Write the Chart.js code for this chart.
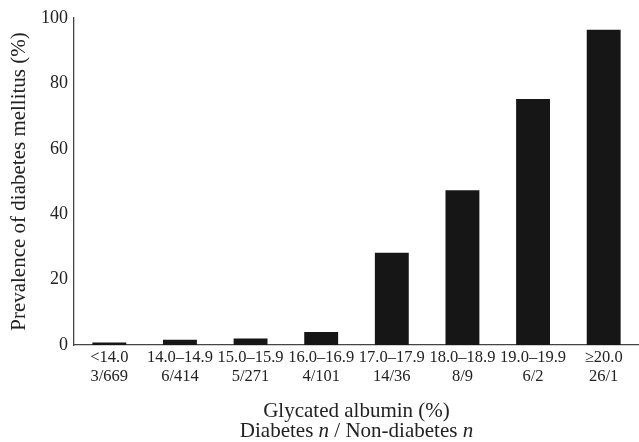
<!DOCTYPE html>
<html>
<head>
<meta charset="utf-8">
<script src="https://cdn.jsdelivr.net/npm/chart.js@4.4.1/dist/chart.umd.min.js"></script>
<style>
  body { margin: 0; background: #fff; }
  #wrap { width: 639px; height: 442px; }
</style>
</head>
<body>
<div id="wrap"><canvas id="gaChart"></canvas></div>
<script>
// glycated albumin ranges and counts (diabetes / non-diabetes)
const ranges = ["<14.0", "14.0\u201314.9", "15.0\u201315.9", "16.0\u201316.9", "17.0\u201317.9", "18.0\u201318.9", "19.0\u201319.9", "\u226520.0"]
const counts = ["3/669", "6/414", "5/271", "4/101", "14/36", "8/9", "6/2", "26/1"]
// prevalence of diabetes mellitus, %
const prevalence = [0.8, 1.6, 2.0, 4.0, 28.2, 47.3, 75.2, 96.4]
const yTicks = [0, 20, 40, 60, 80, 100]

const serif = "'Liberation Serif', 'Times New Roman', serif"
const ink = "#222"

// x title, second line has italic n
const xTitle = {
    id: 'xTitle',
    afterDraw(chart) {
        const { ctx, chartArea } = chart
        const xs = chart.scales.x
        const cx = (chartArea.left + chartArea.right) / 2
        ctx.save()
        ctx.fillStyle = ink
        ctx.textBaseline = 'middle'
        ctx.textAlign = 'center'
        ctx.font = "21px " + serif
        ctx.fillText("Glycated albumin (%)", cx, xs.top + 66)

        const parts = [["Diabetes ", false], ["n", true], [" / Non-diabetes ", false], ["n", true]]
        let total = 0
        parts.forEach(p => {
            ctx.font = (p[1] ? "italic " : "") + "21px " + serif
            total += ctx.measureText(p[0]).width
        })
        let x = cx - total / 2
        ctx.textAlign = 'left'
        parts.forEach(p => {
            ctx.font = (p[1] ? "italic " : "") + "21px " + serif
            ctx.fillText(p[0], x, xs.top + 86)
            x += ctx.measureText(p[0]).width
        })
        ctx.restore()
    }
}

const config = {
    type: 'bar',
    data: {
        labels: ranges.map((r, i) => [r, counts[i]]),
        datasets: [{
            data: prevalence,
            backgroundColor: '#161616',
            borderColor: '#555',
            borderWidth: 0,
            barPercentage: 0.48,
            categoryPercentage: 1.0
        }]
    },
    options: {
        responsive: true,
        maintainAspectRatio: false,
        animation: false,
        layout: { padding: { top: 18, right: 0, bottom: 0, left: 0 } },
        plugins: {
            legend: { display: false },
            tooltip: { enabled: false }
        },
        scales: {
            x: {
                grid: { display: false, drawTicks: false },
                border: { display: true, color: '#444', width: 1.3 },
                ticks: {
                    color: ink,
                    padding: 4,
                    maxRotation: 0,
                    autoSkip: false,
                    font: { family: serif, size: 16.5, lineHeight: 1.1 }
                },
                afterFit(scale) { scale.height = 97 }
            },
            y: {
                min: 0,
                max: 100,
                afterBuildTicks(scale) { scale.ticks = yTicks.map(v => ({ value: v })) },
                grid: { display: false, drawTicks: false },
                border: { display: true, color: '#444', width: 1.3 },
                ticks: {
                    color: ink,
                    padding: 6,
                    font: { family: serif, size: 18 }
                },
                title: {
                    display: true,
                    text: "Prevalence of diabetes mellitus (%)",
                    color: ink,
                    padding: { top: 7, bottom: 0 },
                    font: { family: serif, size: 21 }
                },
                afterFit(scale) { scale.width = 74 }
            }
        }
    },
    plugins: [xTitle]
}

new Chart(document.getElementById('gaChart'), config)
</script>
</body>
</html>
